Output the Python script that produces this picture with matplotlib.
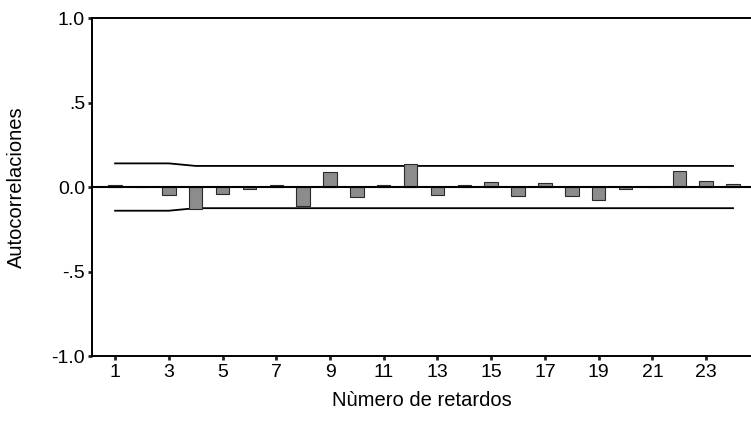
import numpy as np
import matplotlib
matplotlib.use('Agg')
import matplotlib.pyplot as plt

plt.rcParams['font.family'] = ['Liberation Sans', 'DejaVu Sans']

# Autocorrelaciones por retardo
retardos = np.arange(1, 25)
acf = [0.01, 0.00, -0.05, -0.13, -0.04, -0.01, 0.01, -0.11, 0.09, -0.06,
       0.01, 0.135, -0.045, 0.01, 0.03, -0.055, 0.025, -0.055, -0.075, -0.01,
       0.0, 0.095, 0.035, 0.02]
# Límites de confianza
lim_sup = [0.14, 0.14, 0.14, 0.125, 0.125, 0.125, 0.125, 0.125, 0.125, 0.125,
           0.125, 0.125, 0.125, 0.125, 0.125, 0.125, 0.125, 0.125, 0.125, 0.125,
           0.125, 0.125, 0.125, 0.125]
lim_inf = [-v for v in lim_sup]

yticks = [-1.0, -0.5, 0.0, 0.5, 1.0]
ytick_labels = ['-1.0', '-.5', '0.0', '.5', '1.0']
xticks = list(range(1, 24, 2))

fig = plt.figure(figsize=(7.51, 4.30), dpi=100)
ax = fig.add_axes([0.1225, 0.172, 0.8775, 0.786])

ax.bar(retardos, acf, width=0.5, color='#8c8c8c', edgecolor='#2a2a2a', linewidth=0.8, zorder=3)
ax.plot(retardos, lim_sup, color='black', lw=1.3, zorder=2)
ax.plot(retardos, lim_inf, color='black', lw=1.3, zorder=2)
ax.axhline(0, color='black', lw=1.5, zorder=4)

ax.set_xlim(0.14, 24.67)
ax.set_ylim(-1.0, 1.0)
ax.set_yticks(yticks)
ax.set_yticklabels(ytick_labels)
ax.set_xticks(xticks)

for s in ['left', 'bottom', 'top']:
    ax.spines[s].set_linewidth(1.4)
ax.spines['right'].set_visible(False)
ax.tick_params(axis='both', labelsize=14, width=2, length=3, color='#222222')
ax.tick_params(axis='y', pad=2)
ax.tick_params(axis='x', pad=3)

ax.set_ylabel('Autocorrelaciones', fontsize=14.5, labelpad=18)
ax.set_xlabel('Nùmero de retardos', fontsize=14.5, labelpad=7)

fig.savefig('out.png', dpi=100)
